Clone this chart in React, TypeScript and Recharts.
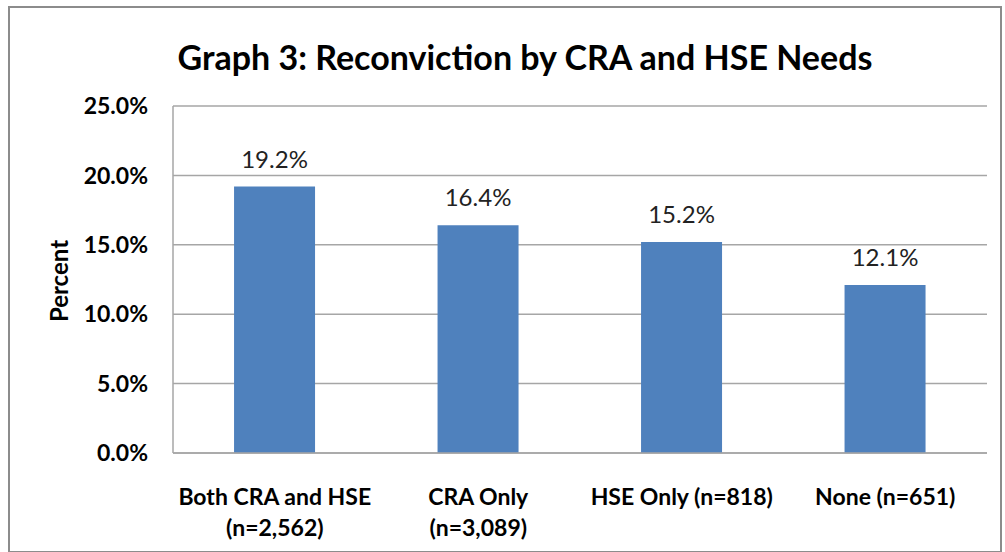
import { BarChart, Bar, XAxis, YAxis, CartesianGrid, LabelList } from 'recharts'

const categories = ['Both CRA and HSE|(n=2,562)', 'CRA Only|(n=3,089)', 'HSE Only (n=818)', 'None (n=651)']
const reconviction = [19.2, 16.4, 15.2, 12.1]
const yTicks = [0, 5, 10, 15, 20, 25]

const data = categories.map((c, i) => ({ name: c, value: reconviction[i] }))

const FONT = 'Lato, "Open Sans", sans-serif'

const CategoryTick = (props: any) => {
  const { x, y, payload } = props
  const lines = String(payload.value).split('|')
  return (
    <text x={x} y={y} textAnchor="middle" fill="#000" fontSize={23} fontWeight="bold" fontFamily={FONT}>
      {lines.map((l, i) => (
        <tspan key={i} x={x} dy={i === 0 ? 44 : 31}>{l}</tspan>
      ))}
    </text>
  )
}

export default function App() {
  return (
    <div style={{ position: 'absolute', left: 0, top: 0, width: 1005, height: 552, background: '#fff', fontFamily: FONT }}>
      <div style={{ position: 'absolute', left: 8, top: 6, width: 990, height: 543, border: '2px solid #8c8c8c' }} />
      <div style={{ position: 'absolute', left: 0, top: 36, width: 1050, textAlign: 'center', fontSize: 34, fontWeight: 'bold', color: '#000' }}>
        Graph 3: Reconviction by CRA and HSE Needs
      </div>
      <div style={{ position: 'absolute', left: 58, top: 281, transform: 'translate(-50%, -50%) rotate(-90deg)', fontSize: 24, fontWeight: 'bold', color: '#000', whiteSpace: 'nowrap' }}>
        Percent
      </div>
      <div style={{ position: 'absolute', left: 0, top: 0 }}>
        <BarChart width={1005} height={552} data={data} margin={{ top: 106, right: 18, bottom: 0, left: 73 }} barCategoryGap="30%">
          <CartesianGrid vertical={false} stroke="#a6a6a6" strokeWidth={1.5} />
          <XAxis dataKey="name" height={99} tick={<CategoryTick />} tickLine={false} axisLine={{ stroke: '#a6a6a6', strokeWidth: 1.5 }} interval={0} />
          <YAxis
            width={100}
            domain={[0, 25]}
            ticks={yTicks}
            tickFormatter={(v: number) => v.toFixed(1) + '%'}
            tick={{ fill: '#000', fontSize: 23, fontWeight: 'bold', fontFamily: FONT }}
            tickLine={false}
            tickSize={0}
            tickMargin={25}
            axisLine={{ stroke: '#a6a6a6', strokeWidth: 1.5 }}
          />
          <Bar dataKey="value" fill="#4f81bd" isAnimationActive={false}>
            <LabelList dataKey="value" position="top" offset={19} formatter={(v: any) => Number(v).toFixed(1) + '%'} fill="#222" fontSize={24} fontFamily={FONT} />
          </Bar>
        </BarChart>
      </div>
    </div>
  )
}
